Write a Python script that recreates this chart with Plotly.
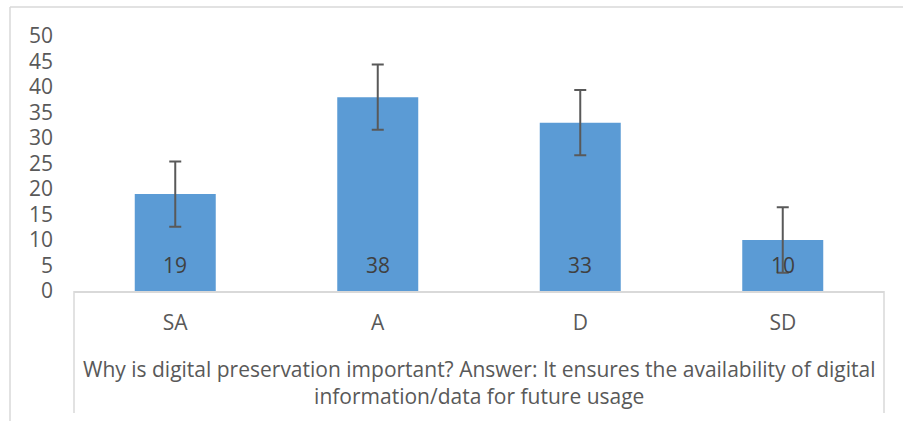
import plotly.graph_objects as go

categories = ["SA", "A", "D", "SD"]
values = [19, 38, 33, 10]
errors = [6.4, 6.4, 6.4, 6.4]
y_ticks = [0, 5, 10, 15, 20, 25, 30, 35, 40, 45, 50]
axis_title = "Why is digital preservation important? Answer: It ensures the availability of digital<br>information/data for future usage"

FONT = "Open Sans"
TXT = "#595959"
GRID = "#d9d9d9"
FS = 21

fig = go.Figure()
fig.add_trace(go.Bar(
    x=categories, y=values,
    marker=dict(color="#5b9bd5", line=dict(width=0)),
    width=0.4,
    error_y=dict(type="data", array=errors, visible=True, color="#595959", thickness=2, width=6),
    cliponaxis=False,
))
for c, v in zip(categories, values):
    fig.add_annotation(x=c, y=0, text=str(v), showarrow=False, yanchor="middle",
                       yshift=26, font=dict(family=FONT, size=FS, color="#404040"))

fig.update_layout(
    width=903, height=421,
    margin=dict(l=74, r=19, t=36, b=130, autoexpand=False),
    paper_bgcolor="white", plot_bgcolor="white",
    showlegend=False, bargap=0.6,
    font=dict(family=FONT, size=FS, color=TXT),
)
fig.update_yaxes(
    range=[0, 50], tickvals=y_ticks, showgrid=False, zeroline=False, showline=False,
    ticks="", ticklabelstandoff=20, automargin=False,
    tickfont=dict(family=FONT, size=FS, color=TXT),
)
fig.update_xaxes(
    showline=True, linecolor=GRID, linewidth=1.5, ticks="", showgrid=False, automargin=False,
    tickfont=dict(family=FONT, size=FS, color=TXT), ticklabelstandoff=12,
)
fig.add_annotation(
    text=axis_title, xref="paper", yref="paper", x=0.5, y=0, yshift=-62,
    xanchor="center", yanchor="top", showarrow=False,
    font=dict(family=FONT, size=FS, color=TXT), align="center",
)
# Excel-like category box and chart border
line = dict(color=GRID, width=1.5)
fig.add_shape(type="line", xref="paper", yref="paper", x0=0, x1=0, y0=0, y1=-122/255, line=line)
fig.add_shape(type="line", xref="paper", yref="paper", x0=1, x1=1, y0=0, y1=-122/255, line=line)
fig.add_shape(type="line", xref="paper", yref="paper", x0=-64/810, x1=-64/810, y0=284/255, y1=-130/255, line=line)
fig.add_shape(type="line", xref="paper", yref="paper", x0=-64/810, x1=829/810, y0=284/255, y1=284/255, line=line)

fig.write_html("out.html", config={"displayModeBar": False, "staticPlot": True},
               post_script="document.body.style.margin='0';document.body.style.overflow='hidden';")
